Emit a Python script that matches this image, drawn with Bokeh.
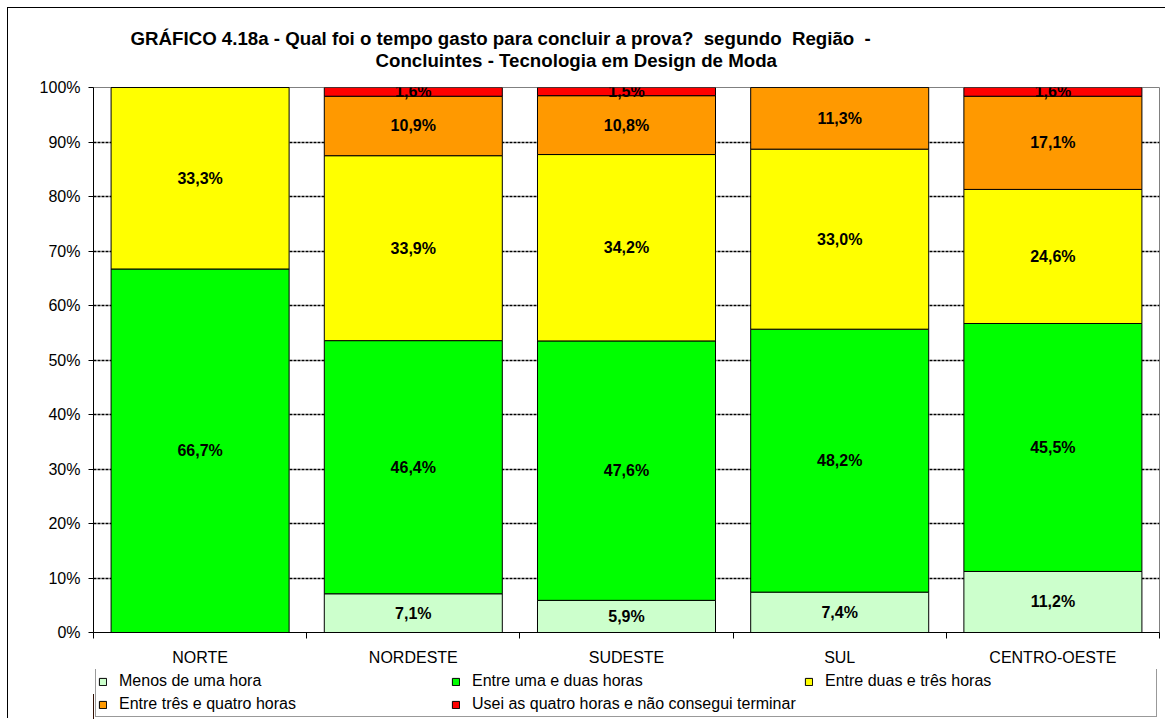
import numpy as np
from bokeh.plotting import figure
from bokeh.layouts import column
from bokeh.models import (Range1d, FixedTicker, PrintfTickFormatter, Legend,
                          LegendItem, Title, ColumnDataSource)
from bokeh.core.properties import value
from bokeh.embed import file_html
from bokeh.resources import INLINE

# ---------------- data ----------------
regions = ["NORTE", "NORDESTE", "SUDESTE", "SUL", "CENTRO-OESTE"]
series_names = ["Menos de uma hora", "Entre uma e duas horas",
                "Entre duas e três horas", "Entre três e quatro horas",
                "Usei as quatro horas e não consegui terminar"]
menos = [0.0, 7.1, 5.9, 7.4, 11.2]
uma_duas = [66.7, 46.4, 47.6, 48.2, 45.5]
duas_tres = [33.3, 33.9, 34.2, 33.0, 24.6]
tres_quatro = [0.0, 10.9, 10.8, 11.3, 17.1]
usei = [0.0, 1.6, 1.5, 0.0, 1.6]
y_ticks = [0, 10, 20, 30, 40, 50, 60, 70, 80, 90, 100]
title_line1 = "GRÁFICO 4.18a - Qual foi o tempo gasto para concluir a prova?\u00a0 segundo\u00a0 Região\u00a0 -"
title_line2 = "Concluintes - Tecnologia em Design de Moda"

colors = ["#CCFFCC", "#00FF00", "#FFFF00", "#FF9900", "#FF0000"]
FONT = "Liberation Sans"

series = [menos, uma_duas, duas_tres, tres_quatro, usei]
raw = np.array(series, dtype=float)
totals = raw.sum(axis=0)
norm = raw / totals * 100.0  # 100% stacked, as in the original

keys = ["s%d" % i for i in range(len(series))]
xpos = np.arange(len(regions)) + 0.5
data = {"x": xpos}
for k, row in zip(keys, norm):
    data[k] = row
src = ColumnDataSource(data)

W = 1158
# ---------------- main figure ----------------
p = figure(width=W, height=661, x_range=Range1d(0, len(regions)),
           y_range=Range1d(0, 100), output_backend="svg",
           toolbar_location=None, min_border_left=85, min_border_right=7,
           min_border_top=79, min_border_bottom=37,
           title=title_line1)

p.title.text_font = FONT
p.title.text_font_size = "18.7px"
p.title.text_font_style = "bold"
p.title.text_color = "black"
p.title.align = "left"
p.title.offset = 37
p.title.standoff = 0

spacer = Title(text="\u00a0", text_font=FONT, text_font_size="10px",
               standoff=4.5)
p.add_layout(spacer, "above")
t2 = Title(text=title_line2, text_font=FONT, text_font_size="18.7px",
           text_font_style="bold", text_color="black", align="left",
           offset=282, standoff=-2)
p.add_layout(t2, "above")

renderers = p.vbar_stack(keys, x="x", width=0.835, color=colors,
                         line_color="black", line_width=1, source=src)

# value labels
lx, ly, lt = [], [], []
bottom = np.zeros(len(regions))
for vals_raw, vals in zip(raw, norm):
    for i in range(len(regions)):
        if vals_raw[i] > 0:
            lx.append(xpos[i])
            ly.append(bottom[i] + vals[i] / 2)
            lt.append(("%.1f" % vals_raw[i]).replace(".", ",") + "%")
    bottom += vals
p.text(x=lx, y=ly, text=lt, text_align="center", text_baseline="middle",
       text_font=value(FONT), text_font_size="16px", text_font_style="bold",
       text_color="black")

# axes
xa = p.xaxis[0]
xa.ticker = FixedTicker(ticks=list(xpos),
                        minor_ticks=list(np.arange(len(regions) + 1)))
xa.major_label_overrides = {float(x): r for x, r in zip(xpos, regions)}
xa.major_tick_line_color = None
xa.major_tick_out = 0
xa.major_tick_in = 0
xa.minor_tick_out = 6
xa.minor_tick_in = 0
xa.minor_tick_line_color = "black"
xa.axis_line_color = "black"
xa.major_label_standoff = 10
xa.major_label_text_font = FONT
xa.major_label_text_font_size = "16px"
xa.major_label_text_color = "black"

ya = p.yaxis[0]
ya.ticker = FixedTicker(ticks=y_ticks)
ya.formatter = PrintfTickFormatter(format="%d%%")
ya.major_tick_out = 5
ya.major_tick_in = 0
ya.minor_tick_line_color = None
ya.axis_line_color = "black"
ya.major_tick_line_color = "black"
ya.major_label_standoff = 8
ya.major_label_text_font = FONT
ya.major_label_text_font_size = "16px"
ya.major_label_text_color = "black"

p.xgrid.visible = False
p.ygrid.ticker = FixedTicker(ticks=y_ticks[1:-1])
p.ygrid.grid_line_color = "black"
p.ygrid.grid_line_dash = "3 1"
p.ygrid.grid_line_width = 1.5

p.outline_line_color = "#808080"

# ---------------- legend strip ----------------
pl = figure(width=W, height=50, x_range=Range1d(0, 1), y_range=Range1d(0, 1),
            output_backend="svg", toolbar_location=None,
            x_axis_location=None, y_axis_location=None,
            min_border_left=85, min_border_right=7, min_border_top=0,
            min_border_bottom=0)
pl.grid.visible = False
pl.outline_line_color = None
# legend keys (one off-range point each, only used for the legend swatches)
keys_r = [pl.vbar(x=[-5], top=[0.5], width=0.1, fill_color=c,
                  line_color="black") for c in colors]

legend = Legend(items=[LegendItem(label=n, renderers=[r])
                       for n, r in zip(series_names, keys_r)],
                orientation="horizontal", ncols=3, location=(2, 2),
                margin=0, padding=2, spacing=3, label_width=329,
                glyph_width=9, glyph_height=9, label_height=20,
                label_standoff=12, label_text_font=FONT,
                label_text_color="black",
                label_text_font_size="16px", border_line_color="#333333",
                border_line_width=1)
pl.add_layout(legend, "center")

layout = column(p, pl, spacing=0)
layout.styles = {"margin-left": "8px", "margin-top": "8px",
                 "box-shadow": "-1px -1px 0 0 #000"}
open("out.html", "w").write(file_html(layout, INLINE))
